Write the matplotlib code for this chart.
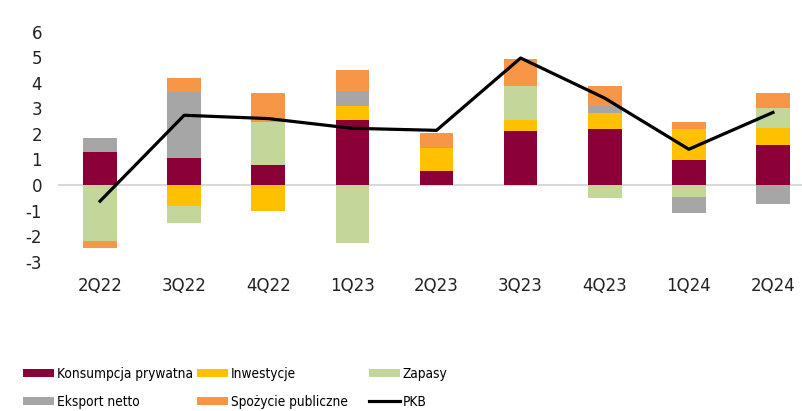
import matplotlib
matplotlib.use("Agg")
import matplotlib.pyplot as plt
from matplotlib import font_manager as fm
import numpy as np

plt.rcParams["axes.unicode_minus"] = False

quarters = ["2Q22", "3Q22", "4Q22", "1Q23", "2Q23", "3Q23", "4Q23", "1Q24", "2Q24"]

konsumpcja = [1.29, 1.06, 0.77, 2.56, 0.53, 2.10, 2.19, 0.96, 1.57]
inwestycje = [0.00, -0.83, -1.02, 0.53, 0.91, 0.46, 0.62, 1.24, 0.66]
zapasy = [-2.18, -0.66, 1.70, -2.28, 0.00, 1.33, -0.50, -0.45, 0.80]
eksport = [0.56, 2.60, 0.00, 0.60, 0.04, 0.00, 0.28, -0.66, -0.74]
spozycie = [-0.30, 0.52, 1.13, 0.81, 0.56, 1.04, 0.80, 0.28, 0.58]
pkb = [-0.63, 2.73, 2.60, 2.22, 2.14, 4.97, 3.40, 1.40, 2.84]

series = [
    ("Konsumpcja prywatna", konsumpcja, "#8B0036"),
    ("Inwestycje", inwestycje, "#FFC000"),
    ("Zapasy", zapasy, "#C4D79B"),
    ("Eksport netto", eksport, "#A6A6A6"),
    ("Spożycie publiczne", spozycie, "#F79646"),
]

W, H = 803, 411
fig = plt.figure(figsize=(W / 100, H / 100), dpi=100)
ax = fig.add_axes([58 / W, 149.3 / H, 757 / W, 230 / H])

x = np.arange(len(quarters))
pos_base = np.zeros(len(quarters))
neg_base = np.zeros(len(quarters))
handles = {}
for name, vals, col in series:
    v = np.array(vals)
    bottom = np.where(v >= 0, pos_base, neg_base)
    b = ax.bar(x, v, 0.4, bottom=bottom, color=col, zorder=2, label=name)
    handles[name] = b
    pos_base += np.clip(v, 0, None)
    neg_base += np.clip(v, None, 0)

line, = ax.plot(x, pkb, color="black", lw=2.3, zorder=4, label="PKB")
handles["PKB"] = line

ax.axhline(0, color="#D9D9D9", lw=1.5, zorder=1)

ax.set_xlim(-0.5, 8.5)
ax.set_ylim(-3, 6)
ax.set_yticks(range(-3, 7))
ax.set_xticks(x)
ax.set_xticklabels(quarters)
for s in ax.spines.values():
    s.set_visible(False)
ax.tick_params(axis="both", length=0, labelsize=12, colors="#222222")
ax.tick_params(axis="x", pad=11)
ax.tick_params(axis="y", pad=11.5)

# legend font: a narrow face if one is installed, else smaller DejaVu Sans
fonts = fm.fontManager.ttflist
if any(f.name == "Liberation Sans Narrow" for f in fonts):
    prop = fm.FontProperties(family="Liberation Sans Narrow", size=11.5)
elif any(f.name == "DejaVu Sans" and f.stretch == "condensed" for f in fonts):
    prop = fm.FontProperties(family="DejaVu Sans", stretch="condensed", size=9.8)
else:
    prop = fm.FontProperties(family="DejaVu Sans", size=8.5)
fs = prop.get_size_in_points() * 100 / 72

cols = [
    (23, ["Konsumpcja prywatna", "Eksport netto"]),
    (197, ["Inwestycje", "Spożycie publiczne"]),
    (369, ["Zapasy", "PKB"]),
]
for x0, names in cols:
    fig.legend([handles[n] for n in names], names,
               loc="upper left", bbox_to_anchor=(x0 / W, (H - 367) / H),
               frameon=False, borderpad=0, borderaxespad=0,
               handlelength=31 / fs, handleheight=7 / fs, handletextpad=3 / fs,
               labelspacing=13.5 / fs, prop=prop)

fig.savefig("out.png", dpi=100)
